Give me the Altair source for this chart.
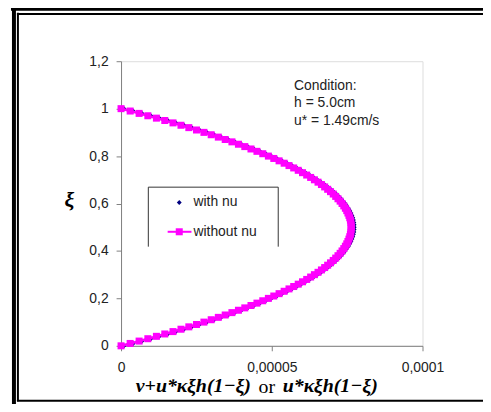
import altair as alt
import pandas as pd

# relative height xi = z/h
xi = [0.00, 0.01, 0.02, 0.03, 0.04, 0.05, 0.06, 0.07, 0.08, 0.09,
      0.10, 0.11, 0.12, 0.13, 0.14, 0.15, 0.16, 0.17, 0.18, 0.19,
      0.20, 0.21, 0.22, 0.23, 0.24, 0.25, 0.26, 0.27, 0.28, 0.29,
      0.30, 0.31, 0.32, 0.33, 0.34, 0.35, 0.36, 0.37, 0.38, 0.39,
      0.40, 0.41, 0.42, 0.43, 0.44, 0.45, 0.46, 0.47, 0.48, 0.49,
      0.50, 0.51, 0.52, 0.53, 0.54, 0.55, 0.56, 0.57, 0.58, 0.59,
      0.60, 0.61, 0.62, 0.63, 0.64, 0.65, 0.66, 0.67, 0.68, 0.69,
      0.70, 0.71, 0.72, 0.73, 0.74, 0.75, 0.76, 0.77, 0.78, 0.79,
      0.80, 0.81, 0.82, 0.83, 0.84, 0.85, 0.86, 0.87, 0.88, 0.89,
      0.90, 0.91, 0.92, 0.93, 0.94, 0.95, 0.96, 0.97, 0.98, 0.99, 1.00]

# eddy viscosity, in units of 1e-6 m^2/s
x_with_nu = [1.00, 4.02, 6.99, 9.89, 12.73, 15.51, 18.23, 20.88, 23.48, 26.02,
             28.49, 30.90, 33.26, 35.55, 37.78, 39.94, 42.05, 44.10, 46.08, 48.01,
             49.87, 51.67, 53.42, 55.10, 56.71, 58.27, 59.77, 61.20, 62.58, 63.89,
             65.14, 66.34, 67.47, 68.54, 69.54, 70.49, 71.38, 72.20, 72.96, 73.67,
             74.31, 74.89, 75.41, 75.87, 76.26, 76.60, 76.87, 77.09, 77.24, 77.33,
             77.36, 77.33, 77.24, 77.09, 76.87, 76.60, 76.26, 75.87, 75.41, 74.89,
             74.31, 73.67, 72.96, 72.20, 71.38, 70.49, 69.54, 68.54, 67.47, 66.34,
             65.14, 63.89, 62.58, 61.20, 59.77, 58.27, 56.71, 55.10, 53.42, 51.67,
             49.87, 48.01, 46.08, 44.10, 42.05, 39.94, 37.78, 35.55, 33.26, 30.90,
             28.49, 26.02, 23.48, 20.88, 18.23, 15.51, 12.73, 9.89, 6.99, 4.02, 1.00]

x_without_nu = [0.00, 3.02, 5.99, 8.89, 11.73, 14.51, 17.23, 19.88, 22.48, 25.02,
                27.49, 29.90, 32.26, 34.55, 36.78, 38.94, 41.05, 43.10, 45.08, 47.01,
                48.87, 50.67, 52.42, 54.10, 55.71, 57.27, 58.77, 60.20, 61.58, 62.89,
                64.14, 65.34, 66.47, 67.54, 68.54, 69.49, 70.38, 71.20, 71.96, 72.67,
                73.31, 73.89, 74.41, 74.87, 75.26, 75.60, 75.87, 76.09, 76.24, 76.33,
                76.36, 76.33, 76.24, 76.09, 75.87, 75.60, 75.26, 74.87, 74.41, 73.89,
                73.31, 72.67, 71.96, 71.20, 70.38, 69.49, 68.54, 67.54, 66.47, 65.34,
                64.14, 62.89, 61.58, 60.20, 58.77, 57.27, 55.71, 54.10, 52.42, 50.67,
                48.87, 47.01, 45.08, 43.10, 41.05, 38.94, 36.78, 34.55, 32.26, 29.90,
                27.49, 25.02, 22.48, 19.88, 17.23, 14.51, 11.73, 8.89, 5.99, 3.02, 0.00]

series_names = ["with nu", "without nu"]
x_ticks = [0, 50, 100]
x_tick_labels = ["0", "0,00005", "0,0001"]
y_ticks = [0, 0.2, 0.4, 0.6, 0.8, 1.0, 1.2]
y_tick_labels = ["0", "0,2", "0,4", "0,6", "0,8", "1", "1,2"]
condition_lines = ["Condition:", "h = 5.0cm", "u* = 1.49cm/s"]
x_title_parts = ["\u03bd+u*\u03ba\u03beh(1\u2212\u03be)", "or", "u*\u03ba\u03beh(1\u2212\u03be)"]
y_title = "\u03be"

NAVY = "#000080"
MAGENTA = "#FF00FF"
FONT = "Liberation Sans"
SERIF = "Liberation Serif"
FS = 14


def label_expr(vals, labels):
    expr = "''"
    for v, l in reversed(list(zip(vals, labels))):
        expr = f"abs(datum.value - {v}) < 1e-9 ? '{l}' : ({expr})"
    return expr


df_with = pd.DataFrame({"x": x_with_nu, "xi": xi})
df_without = pd.DataFrame({"x": x_without_nu, "xi": xi})

xs = alt.Scale(domain=[0, 100], nice=False, zero=True)
ys = alt.Scale(domain=[0, 1.2], nice=False)

x_enc = alt.X("x:Q", scale=xs, axis=alt.Axis(
    values=x_ticks, labelExpr=label_expr(x_ticks, x_tick_labels), title=None,
    grid=False, tickSize=5, labelPadding=10, labelFont=FONT, labelFontSize=FS,
    labelColor="#222", domainColor="#808080", tickColor="#808080", labelFlush=False))
y_enc = alt.Y("xi:Q", scale=ys, axis=alt.Axis(
    values=y_ticks, labelExpr=label_expr(y_ticks, y_tick_labels), title=None,
    grid=False, tickSize=5, labelPadding=8, labelFont=FONT, labelFontSize=FS,
    labelColor="#222", domainColor="#808080", tickColor="#808080", labelFlush=False))

with_pts = alt.Chart(df_with).mark_point(
    shape="diamond", filled=True, color=NAVY, size=24, opacity=1
).encode(x=x_enc, y=y_enc)

without_line = alt.Chart(df_without).mark_line(
    color=MAGENTA, strokeWidth=2.5
).encode(x=x_enc, y=y_enc, order="xi:Q")

without_pts = alt.Chart(df_without).mark_square(
    color=MAGENTA, size=50, opacity=1
).encode(x=x_enc, y=y_enc)

one = alt.Data(values=[{"a": 0}])


def rule(x1, x2, y1, y2, color="black", w=1):
    return alt.Chart(one).mark_rule(color=color, strokeWidth=w).encode(
        x=alt.value(x1), x2=alt.value(x2), y=alt.value(y1), y2=alt.value(y2))


# outer page frame (plot origin at page 122,60)
frame = [
    rule(-111, 380, -53, -53, w=4),
    rule(-108, -108, -55, 360, w=4),
    rule(-105, 380, -47.5, -47.5, w=2),
    rule(-104, -104, -49, 343, w=2),
    rule(-105, 380, 342.5, 342.5, w=2),
]

# legend box (no bottom edge)
legend_box = [
    rule(27.5, 158.5, 127, 127, color="#333"),
    rule(27.5, 27.5, 127, 187, color="#333"),
    rule(158.5, 158.5, 127, 187, color="#333"),
]
leg_diamond = alt.Chart(one).mark_point(
    shape="diamond", filled=True, color=NAVY, size=24, opacity=1
).encode(x=alt.value(58.7), y=alt.value(142.5))
leg_line = rule(47, 71, 172, 172, color=MAGENTA, w=2)
leg_square = alt.Chart(one).mark_square(color=MAGENTA, size=50, opacity=1).encode(
    x=alt.value(58.7), y=alt.value(172))
leg_text = alt.Chart(pd.DataFrame({"label": series_names, "ypos": [142.5, 172]})).mark_text(
    align="left", baseline="middle", font=FONT, fontSize=FS, color="#222"
).encode(x=alt.value(73), y=alt.Y("ypos:Q", scale=None), text="label:N")

cond_text = alt.Chart(pd.DataFrame({"t": condition_lines, "ypos": [25, 42.3, 60]})).mark_text(
    align="left", baseline="middle", font=FONT, fontSize=FS, color="#222"
).encode(x=alt.value(174.5), y=alt.Y("ypos:Q", scale=None), text="t:N")

TS = 20
xt1 = alt.Chart(pd.DataFrame({"t": [x_title_parts[0]]})).mark_text(
    align="right", baseline="middle", font=SERIF, fontSize=TS, fontWeight="bold",
    fontStyle="italic", color="black").encode(x=alt.value(131), y=alt.value(328), text="t:N")
xt2 = alt.Chart(pd.DataFrame({"t": [x_title_parts[1]]})).mark_text(
    align="center", baseline="middle", font=SERIF, fontSize=TS,
    color="black").encode(x=alt.value(147), y=alt.value(329), text="t:N")
xt3 = alt.Chart(pd.DataFrame({"t": [x_title_parts[2]]})).mark_text(
    align="left", baseline="middle", font=SERIF, fontSize=TS, fontWeight="bold",
    fontStyle="italic", color="black").encode(x=alt.value(163), y=alt.value(328), text="t:N")
yt = alt.Chart(pd.DataFrame({"t": [y_title]})).mark_text(
    align="center", baseline="middle", font=SERIF, fontSize=22, fontWeight="bold",
    fontStyle="italic", color="black").encode(x=alt.value(-52), y=alt.value(140), text="t:N")

chart = alt.layer(
    with_pts, without_line, without_pts,
    *legend_box, leg_diamond, leg_line, leg_square, leg_text,
    cond_text, xt1, xt2, xt3, yt, *frame
).properties(
    width=304, height=287,
    autosize=alt.AutoSizeParams(type="none"),
    padding={"left": 114, "top": 52, "right": 61, "bottom": 57},
).configure_view(stroke="#808080", strokeWidth=1).configure(background="white")

chart.save("out.html", embed_options={"renderer": "svg", "actions": False})
